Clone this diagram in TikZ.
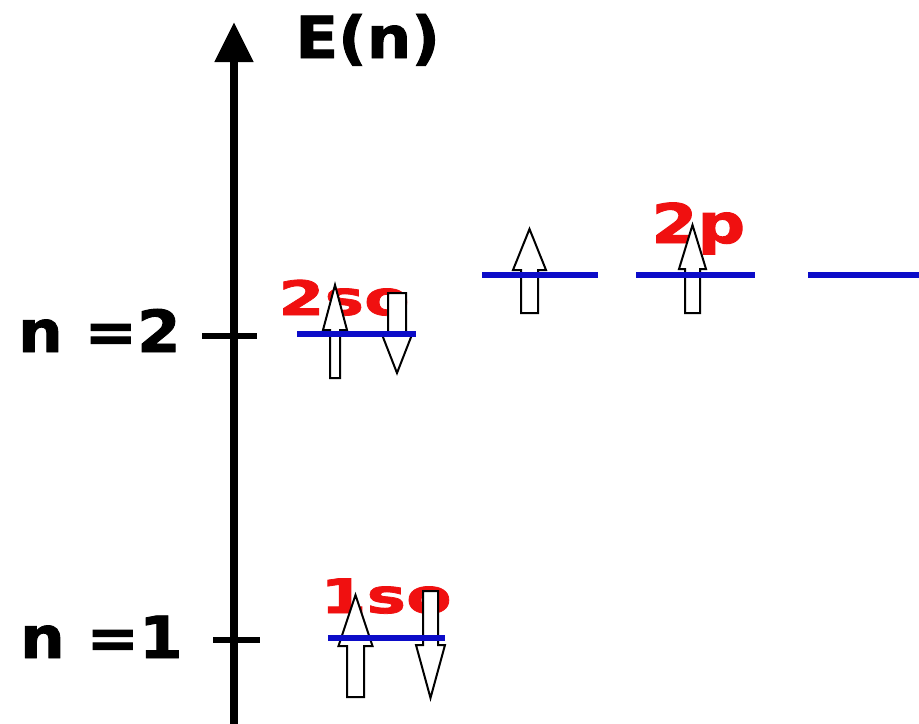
\documentclass[tikz,border=0pt]{standalone}
\usepackage{fontspec}
\setmainfont{DejaVu Sans}
\newfontfamily\axisfont[FakeStretch=1.08, FakeBold=1.6]{DejaVu Sans}
\newfontfamily\orbfont[FakeStretch=1.4, FakeBold=1.6]{DejaVu Sans}
\newfontfamily\orbwidefont[FakeStretch=1.22, FakeBold=1.8]{DejaVu Sans}
\usepackage{tikz}
\usetikzlibrary{arrows.meta, positioning}
\definecolor{levelBlue}{HTML}{0C0CC8}
\definecolor{orbRed}{HTML}{F01010}
\tikzset{
  energy/axis/.style   = {line width=1.6mm, -{Triangle[length=8mm, width=7.4mm]}},
  energy/tick/.style   = {line width=1.2mm},
  energy/level/.style  = {line width=1.2mm, draw=levelBlue},
  energy/spin/.style   = {draw=black, fill=white, line width=0.4mm, line join=miter},
  energy/label/.style  = {inner sep=0pt, font=\axisfont\bfseries\fontsize{33}{36}\selectfont},
  energy/orb/.style    = {inner sep=0pt, text=orbRed, font=\orbfont\bfseries\fontsize{27}{30}\selectfont},
}
% spin arrow: centre x, shaft end y, head base y, tip y, shaft half width, head half width
\newcommand\spinarrow[6]{%
  \draw[energy/spin] (#1-#5,#2) -- (#1-#5,#3) -- (#1-#6,#3) -- (#1,#4)
    -- (#1+#6,#3) -- (#1+#5,#3) -- (#1+#5,#2) -- cycle;}
\begin{document}
\begin{tikzpicture}[x=0.2mm, y=-0.2mm]
  \useasboundingbox (0,0) rectangle (919,724);
  % energy axis
  \coordinate (ax0) at (234,724);
  \coordinate (ax1) at (234,22);
  \draw[energy/axis] (ax0) -- (ax1);
  \node[energy/label, anchor=base west] (en) at (295,58) {E(n)};
  % ticks for n
  \coordinate (t2a) at (202,336); \coordinate (t2b) at (257,336);
  \coordinate (t1a) at (213,640); \coordinate (t1b) at (260,640);
  \draw[energy/tick] (t2a) -- (t2b);
  \draw[energy/tick] (t1a) -- (t1b);
  \node[energy/label, anchor=base east] (n2) at (181,352) {n =2};
  \node[energy/label, anchor=base east] (n1) at (183,658) {n =1};
  % orbital labels
  \node[energy/orb, anchor=base west] (l2s) at (278,315) {2so};
  \node[energy/orb, anchor=base west] (l1s) at (320,613) {1so};
  \node[energy/orb, anchor=base west, font=\orbwidefont\bfseries\fontsize{31}{34}\selectfont]
       (l2p) at (651,243) {2p};
  % spins
  \spinarrow{335}{378}{330}{285}{5}{12}
  \spinarrow{397}{293}{332}{373}{9}{16}
  \spinarrow{529.5}{313}{270}{229}{8.5}{16.5}
  \spinarrow{692.5}{313}{269}{225}{7.5}{13.5}
  \spinarrow{355.5}{697}{646}{595}{8.5}{17}
  \spinarrow{430.5}{591}{645}{698}{7.5}{14.5}
  % levels
  \coordinate (s2a) at (297,334); \coordinate (s2b) at (416,334);
  \coordinate (s1a) at (328,638); \coordinate (s1b) at (445,638);
  \coordinate (p1a) at (482,275); \coordinate (p1b) at (598,275);
  \coordinate (p2a) at (636,275); \coordinate (p2b) at (755,275);
  \coordinate (p3a) at (808,275); \coordinate (p3b) at (919,275);
  \foreach \a/\b in {s2a/s2b, s1a/s1b, p1a/p1b, p2a/p2b, p3a/p3b}
    \draw[energy/level] (\a) -- (\b);
\end{tikzpicture}
\end{document}
